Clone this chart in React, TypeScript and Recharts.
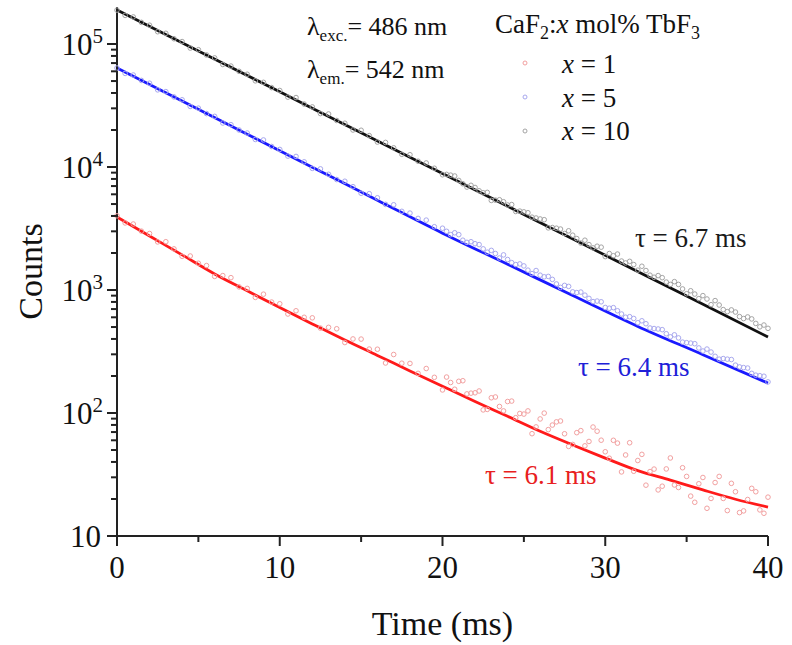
import React from 'react';
import { ComposedChart, Line, Scatter, XAxis, YAxis } from 'recharts';

// time axis of the measured decay (ms)
const time = [
  0, 0.5, 1, 1.5, 2, 2.5, 3, 3.5, 4, 4.5, 5, 5.5, 6, 6.5, 7, 7.5, 8, 8.5, 9, 9.5,
  10, 10.5, 11, 11.5, 12, 12.5, 13, 13.5, 14, 14.5, 15, 15.5, 16, 16.5, 17, 17.5, 18, 18.5, 19, 19.5,
  20, 20.5, 21, 21.5, 22, 22.5, 23, 23.5, 24, 24.5, 25, 25.5, 26, 26.5, 27, 27.5, 28, 28.5, 29, 29.5,
  30, 30.5, 31, 31.5, 32, 32.5, 33, 33.5, 34, 34.5, 35, 35.5, 36, 36.5, 37, 37.5, 38, 38.5, 39, 39.5, 40,
];
// extra samples in the tail, between the ones above
const tailTime = [
  20.25, 20.75, 21.25, 21.75, 22.25, 22.75, 23.25, 23.75, 24.25, 24.75,
  25.25, 25.75, 26.25, 26.75, 27.25, 27.75, 28.25, 28.75, 29.25, 29.75,
  30.25, 30.75, 31.25, 31.75, 32.25, 32.75, 33.25, 33.75, 34.25, 34.75,
  35.25, 35.75, 36.25, 36.75, 37.25, 37.75, 38.25, 38.75, 39.25, 39.75,
];

// measured counts, x = 1
const counts1 = [
  4010, 3510, 3440, 3010, 2880, 2460, 2470, 2160, 1880, 1890, 1650, 1580, 1290, 1310, 1260, 1060, 1030, 871, 925, 798,
  773, 638, 678, 600, 594, 490, 497, 484, 374, 400, 399, 331, 330, 255, 299, 254, 253, 210, 230, 195,
  154, 177, 181, 143, 146, 106, 133, 113, 124, 91.6, 98, 67.9, 89.5, 73.3, 84.7, 67.8, 55.5, 71.9, 58.7, 71.1,
  48.4, 60, 33.2, 57.3, 41.1, 25.9, 35, 25.4, 43.1, 24.8, 30.5, 18.8, 29.9, 20.2, 30.5, 16.1, 22.9, 16, 24.4, 16.3, 20.7,
];
const tail1 = [
  196, 156, 183, 145, 151, 107, 135, 104, 125, 99.1,
  104, 77.1, 99.8, 79.8, 86.1, 53.5, 69.2, 54.1, 76.9, 60.1,
  42.9, 56.9, 45.6, 33.6, 46.1, 33.4, 23.7, 35.1, 26, 35.9,
  21.1, 26.6, 16.8, 27.2, 20.2, 26.8, 15.5, 19.8, 22.9, 15.3,
];

// measured counts, x = 5
const counts5 = [
  63800, 57700, 56000, 50600, 48000, 42400, 41000, 37150, 35200, 31100, 30100, 27200, 25800, 22800, 22100, 20000, 18900, 16750, 16600, 14690,
  13900, 12270, 12190, 11020, 9750, 9660, 8730, 7910, 7660, 6920, 6120, 6070, 5620, 4970, 4930, 4360, 4220, 3820, 3700, 3270,
  3180, 2820, 2820, 2440, 2380, 2160, 2100, 1820, 1770, 1610, 1570, 1360, 1320, 1290, 1120, 1090, 966, 962, 855, 813,
  721, 719, 638, 607, 542, 532, 486, 476, 416, 408, 373, 366, 319, 313, 274, 274, 245, 234, 210, 201, 179,
];
const tail5 = [
  3000, 2920, 2540, 2470, 2340, 2030, 1980, 1930, 1670, 1630,
  1450, 1440, 1280, 1220, 1050, 1070, 953, 908, 805, 802,
  711, 678, 601, 587, 562, 491, 482, 441, 432, 377,
  370, 338, 331, 289, 277, 272, 237, 232, 203, 199,
];

// measured counts, x = 10
const counts10 = [
  188800, 171000, 166000, 150000, 142200, 125900, 122200, 110400, 104700, 92700, 89900, 81500, 77100, 68200, 66200, 60000, 56800, 50200, 48800, 44200,
  41900, 37000, 36700, 32500, 30800, 27200, 27000, 23900, 22700, 20000, 19900, 18000, 15960, 15850, 14320, 12680, 12590, 11140, 10790, 9770,
  8650, 8590, 7780, 6870, 6820, 6180, 5350, 5420, 4910, 4350, 4320, 3910, 3780, 3200, 3180, 2880, 2790, 2410, 2340, 2270,
  1870, 1900, 1720, 1710, 1450, 1440, 1270, 1260, 1110, 1110, 933, 927, 900, 760, 755, 667, 662, 586, 582, 502, 488,
];
const tail10 = [
  8710, 8450, 7310, 7100, 6410, 6220, 5380, 5220, 4950, 4380,
  4250, 3850, 3730, 3220, 3130, 3030, 2620, 2540, 2200, 2230,
  1980, 1960, 1660, 1610, 1560, 1320, 1310, 1160, 1170, 1020,
  986, 851, 845, 820, 693, 689, 608, 604, 535, 519,
];

// fitted curves
const fitTime1 = [0, 2, 4, 6, 8, 10, 12, 14, 16, 18, 20, 22, 24, 26, 28, 30, 32, 34, 36, 38, 40];
const fit1 = [3920, 2750, 1930, 1350, 985, 720, 530, 392, 294, 220, 165, 124, 94, 71, 55, 43, 34, 28.5, 23.7, 19.9, 17.2];
const fitTime5 = [0, 4, 8, 12, 16, 20, 24, 28, 32, 36, 40];
const fit5 = [63800, 34400, 18500, 9970, 5370, 2900, 1620, 902, 506, 298, 175];
const fitTime10 = [0, 5, 10, 15, 20, 25, 30, 35, 40];
const fit10 = [188800, 87900, 40900, 19000, 8850, 4120, 1920, 892, 415];

const xTicks = [0, 5, 10, 15, 20, 25, 30, 35, 40];
const yTicks = [
  10, 20, 30, 40, 50, 60, 70, 80, 90,
  100, 200, 300, 400, 500, 600, 700, 800, 900,
  1000, 2000, 3000, 4000, 5000, 6000, 7000, 8000, 9000,
  10000, 20000, 30000, 40000, 50000, 60000, 70000, 80000, 90000,
  100000,
];

const series = [
  { label: '1', counts: counts1, tail: tail1, fitT: fitTime1, fit: fit1, line: '#ff1a1a', dot: '#f2a0a0' },
  { label: '5', counts: counts5, tail: tail5, fitT: fitTime5, fit: fit5, line: '#1a1aff', dot: '#a8a8ee' },
  { label: '10', counts: counts10, tail: tail10, fitT: fitTime10, fit: fit10, line: '#111111', dot: '#a4a4a4' },
];

const FONT = '"Liberation Serif", "Times New Roman", serif';
const AXIS = '#222';

const XTick = ({ x, y, payload }: any) => {
  const major = payload.value % 10 === 0;
  return (
    <g>
      <line x1={x} y1={y} x2={x} y2={y + (major ? 10 : 6)} stroke={AXIS} strokeWidth={2} />
      {major && (
        <text x={x} y={y + 42} textAnchor="middle" fontSize={31} fontFamily={FONT} fill="#111">
          {payload.value}
        </text>
      )}
    </g>
  );
};

const YTick = ({ x, y, payload }: any) => {
  const v = payload.value;
  const exp = Math.round(Math.log10(v));
  const major = Math.abs(v - Math.pow(10, exp)) < 1e-6;
  return (
    <g>
      <line x1={x} y1={y} x2={x - (major ? 10 : 6)} y2={y} stroke={AXIS} strokeWidth={2} />
      {major && (
        <text x={x - (exp === 1 ? 16 : 14)} y={y + 11} textAnchor="end" fontSize={31} fontFamily={FONT} fill="#111">
          {exp === 1 ? (
            '10'
          ) : (
            <>
              10
              <tspan dy={-12} fontSize={21}>{exp}</tspan>
            </>
          )}
        </text>
      )}
    </g>
  );
};

const Dot = (color: string) => (p: any) => (
  <circle cx={p.cx} cy={p.cy} r={2.3} fill="none" stroke={color} strokeWidth={1} />
);

export default function App() {
  return (
    <div style={{ position: 'absolute', left: 0, top: 0, width: 792, height: 645, background: '#fff' }}>
      <ComposedChart width={792} height={645} margin={{ top: 7, right: 24, bottom: 0, left: 0 }}>
        <XAxis
          type="number"
          dataKey="t"
          domain={[0, 40]}
          ticks={xTicks}
          tick={<XTick />}
          tickLine={false}
          tickSize={0}
          tickMargin={0}
          axisLine={{ stroke: AXIS, strokeWidth: 2 }}
          height={109}
          interval={0}
          label={{
            value: 'Time (ms)',
            position: 'insideBottom',
            offset: 10,
            style: { fontSize: 34, fontFamily: FONT, fill: '#111' },
          }}
        />
        <YAxis
          type="number"
          dataKey="v"
          scale="log"
          domain={[10, 200000]}
          allowDataOverflow
          ticks={yTicks}
          tick={<YTick />}
          tickLine={false}
          tickSize={0}
          tickMargin={0}
          interval={0}
          axisLine={{ stroke: AXIS, strokeWidth: 2 }}
          width={117}
          label={{
            value: 'Counts',
            angle: -90,
            position: 'insideLeft',
            offset: 30,
            style: { fontSize: 34, fontFamily: FONT, fill: '#111', textAnchor: 'middle' },
          }}
        />
        {series.map((s) => (
          <Scatter
            key={'pts' + s.label}
            data={[
              ...time.map((t, i) => ({ t, v: s.counts[i] })),
              ...tailTime.map((t, i) => ({ t, v: s.tail[i] })),
            ]}
            dataKey="v"
            shape={Dot(s.dot)}
            isAnimationActive={false}
          />
        ))}
        {series.map((s) => (
          <Line
            key={'fit' + s.label}
            data={s.fitT.map((t, i) => ({ t, v: s.fit[i] }))}
            dataKey="v"
            type="monotone"
            stroke={s.line}
            strokeWidth={2.8}
            dot={false}
            activeDot={false}
            isAnimationActive={false}
          />
        ))}
      </ComposedChart>
      <svg
        width={792}
        height={645}
        style={{ position: 'absolute', left: 0, top: 0, pointerEvents: 'none' }}
        fontFamily={FONT}
      >
        <text x={307} y={35} fontSize={26} fill="#111">
          λ<tspan fontSize={17} dy={6}>exc.</tspan>
          <tspan dy={-6}>= 486 nm</tspan>
        </text>
        <text x={307} y={78} fontSize={26} fill="#111">
          λ<tspan fontSize={17} dy={6}>em.</tspan>
          <tspan dy={-6}>= 542 nm</tspan>
        </text>
        <text x={495} y={33} fontSize={27} fill="#111">
          CaF<tspan fontSize={18} dy={6}>2</tspan>
          <tspan dy={-6}>:</tspan>
          <tspan fontStyle="italic">x</tspan> mol% TbF<tspan fontSize={18} dy={6}>3</tspan>
        </text>
        {series.map((s, i) => (
          <g key={'lg' + s.label}>
            <circle cx={525} cy={63 + i * 34} r={2} fill="none" stroke={s.dot} strokeWidth={1} />
            <text x={562} y={73 + i * 33.5} fontSize={27} fill="#111">
              <tspan fontStyle="italic">x</tspan> = {s.label}
            </text>
          </g>
        ))}
        <text x={635} y={247} fontSize={27} fill="#1a1a1a">τ = 6.7 ms</text>
        <text x={578} y={376} fontSize={27} fill="#2020d8">τ = 6.4 ms</text>
        <text x={485} y={484} fontSize={27} fill="#e82020">τ = 6.1 ms</text>
      </svg>
    </div>
  );
}
